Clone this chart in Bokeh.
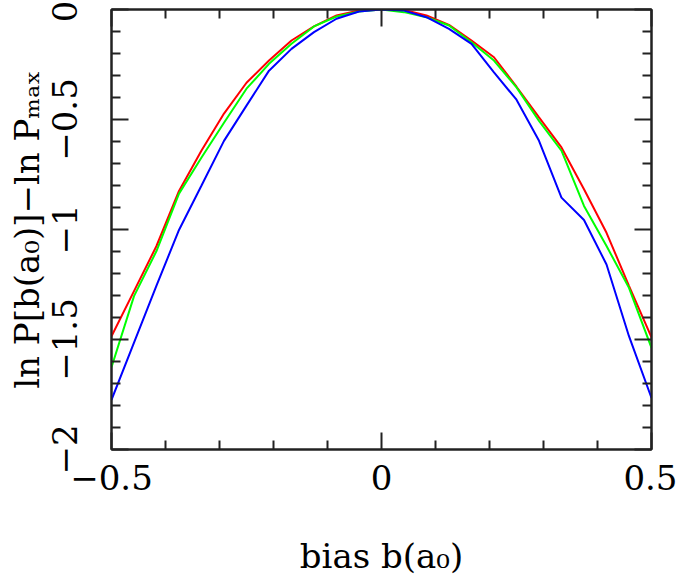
from bokeh.plotting import figure
from bokeh.models import Range1d, LinearAxis, FixedTicker
from bokeh.embed import file_html
from bokeh.resources import INLINE

# ---- data ----
bias = [-0.5, -0.4583, -0.4167, -0.375, -0.3333, -0.2917, -0.25, -0.2083,
        -0.1667, -0.125, -0.0833, -0.0417, 0.0, 0.0417, 0.0833, 0.125,
        0.1667, 0.2083, 0.25, 0.2917, 0.3333, 0.375, 0.4167, 0.4583, 0.5]
lnp_red = [-1.485, -1.28, -1.075, -0.825, -0.641, -0.473, -0.333, -0.232,
           -0.141, -0.077, -0.027, -0.005, 0.0, -0.002, -0.027, -0.07,
           -0.141, -0.217, -0.351, -0.49, -0.627, -0.817, -1.015, -1.256, -1.49]
lnp_green = [-1.626, -1.303, -1.098, -0.837, -0.673, -0.515, -0.36, -0.247,
             -0.156, -0.077, -0.032, -0.009, 0.0, -0.012, -0.035, -0.073,
             -0.149, -0.232, -0.354, -0.506, -0.642, -0.893, -1.075, -1.265, -1.538]
lnp_blue = [-1.774, -1.514, -1.255, -1.002, -0.80, -0.597, -0.437, -0.278,
            -0.179, -0.103, -0.042, -0.009, 0.0, -0.005, -0.035, -0.088,
            -0.156, -0.286, -0.410, -0.597, -0.855, -0.957, -1.159, -1.485, -1.766]

x_major = [-0.5, 0.0, 0.5]
x_minor = [-0.4, -0.3, -0.2, -0.1, 0.1, 0.2, 0.3, 0.4]
y_major = [-2.0, -1.5, -1.0, -0.5, 0.0]
y_minor = [-1.9, -1.8, -1.7, -1.6, -1.4, -1.3, -1.2, -1.1, -0.9, -0.8,
           -0.7, -0.6, -0.4, -0.3, -0.2, -0.1]
x_tick_labels = {"-0.5": "\u22120.5", "0": "0", "0.5": "0.5"}
y_tick_labels = {"-2": "\u22122", "-1.5": "\u22121.5", "-1": "\u22121",
                 "-0.5": "\u22120.5", "0": "0"}
x_title = "bias b(a\u2080)"
y_title = "ln P[b(a\u2080)]\u2212ln P\u2098\u2090\u2093"

FONT = "DejaVu Serif"
W, H = 677, 582

p = figure(width=W, height=H, x_range=Range1d(-0.5, 0.5), y_range=Range1d(-2.0, 0.0),
           output_backend="svg", toolbar_location=None,
           min_border_left=111, min_border_right=26, min_border_top=9,
           min_border_bottom=133)
p.xgrid.visible = False
p.ygrid.visible = False
p.outline_line_color = "#222222"
p.outline_line_width = 2
p.background_fill_color = "white"
p.border_fill_color = "white"


def style_axis(ax, ticks, minor, labels, show_labels, vertical=False):
    ax.ticker = FixedTicker(ticks=ticks, minor_ticks=minor)
    ax.axis_line_color = "#222222"
    ax.axis_line_width = 2
    ax.major_tick_line_color = "#222222"
    ax.major_tick_line_width = 2
    ax.minor_tick_line_color = "#222222"
    ax.minor_tick_line_width = 2
    ax.major_tick_in = 17
    ax.major_tick_out = 0
    ax.minor_tick_in = 9
    ax.minor_tick_out = 0
    if show_labels:
        ax.major_label_overrides = labels
        ax.major_label_text_font = FONT
        ax.major_label_text_font_size = "34px"
        ax.major_label_text_color = "black"
        ax.axis_label_text_font = FONT
        ax.axis_label_text_font_size = "34px"
        ax.axis_label_text_font_style = "normal"
        ax.axis_label_text_color = "black"
        if vertical:
            ax.major_label_orientation = "vertical"
            ax.major_label_standoff = 35
            ax.axis_label_standoff = 2
        else:
            ax.major_label_standoff = 15
            ax.axis_label_standoff = 43
    else:
        ax.major_label_text_font_size = "1px"
        ax.major_label_text_color = None
        ax.major_label_standoff = 0


style_axis(p.xaxis[0], x_major, x_minor, x_tick_labels, True)
style_axis(p.yaxis[0], y_major, y_minor, y_tick_labels, True, vertical=True)
p.xaxis[0].axis_label = x_title
p.yaxis[0].axis_label = y_title

top_ax = LinearAxis()
right_ax = LinearAxis()
style_axis(top_ax, x_major, x_minor, x_tick_labels, False)
style_axis(right_ax, y_major, y_minor, y_tick_labels, False)
p.add_layout(top_ax, "above")
p.add_layout(right_ax, "right")

p.line(bias, lnp_red, line_color="#ff0000", line_width=2)
p.line(bias, lnp_green, line_color="#00ff00", line_width=2)
p.line(bias, lnp_blue, line_color="#0000ff", line_width=2)

open("out.html", "w").write(file_html(p, INLINE))
